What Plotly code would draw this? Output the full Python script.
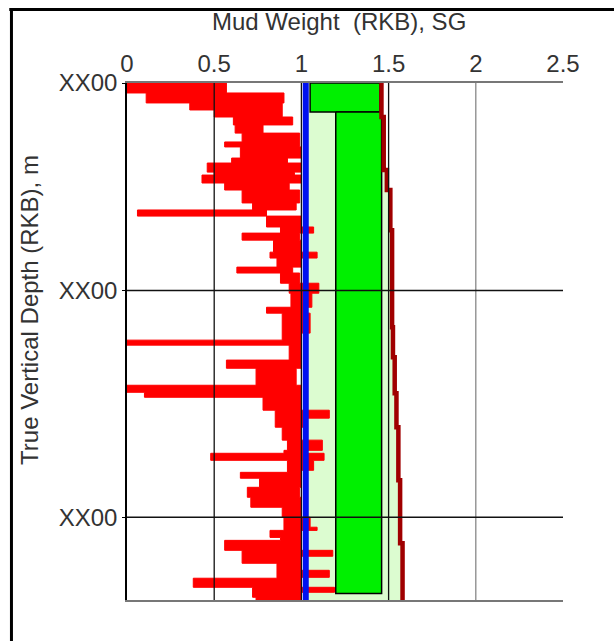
import plotly.graph_objects as go

# ---------------- data ----------------
# measured log (red): depth of top of each interval (m), min and max value (SG)
log_depth = [1808.5, 1812.9, 1817.3, 1820.4, 1823.5, 1827.0, 1830.6, 1834.5, 1836.7, 1841.6,
             1843.8, 1847.8, 1849.1, 1852.6, 1855.7, 1861.4, 1864.5, 1867.2, 1872.0, 1874.7,
             1877.8, 1883.1, 1885.7, 1889.7, 1892.3, 1896.8, 1901.2, 1907.4, 1910.0, 1918.8,
             1921.9, 1924.1, 1930.7, 1934.3, 1941.8, 1944.9, 1947.1, 1952.8, 1956.3, 1960.3,
             1966.0, 1970.5, 1971.8, 1974.9, 1979.3, 1980.2, 1982.8, 1986.8, 1991.2, 1995.6,
             2000.0, 2004.4, 2005.8, 2008.9, 2010.2, 2014.6, 2017.2, 2020.3, 2023.4, 2026.5,
             2026.9, 2030.9, 2033.1, 2035.3]
log_min = [0.00, 0.11, 0.36, 0.50, 0.61, 0.62, 0.66, 0.56, 0.65, 0.60,
           0.46, 0.50, 0.43, 0.56, 0.66, 0.72, 0.06, 0.80, 0.88, 0.66,
           0.84, 0.82, 0.86, 0.63, 0.88, 0.93, 0.94, 0.80, 0.89, 0.89,
           0.00, 0.93, 0.57, 0.74, 0.00, 0.10, 0.78, 0.85, 0.85, 0.89,
           0.92, 0.90, 0.48, 0.92, 0.92, 0.65, 0.76, 0.69, 0.71, 0.89,
           0.90, 0.90, 0.82, 0.88, 0.56, 0.66, 0.66, 0.86, 0.86, 0.86,
           0.38, 0.72, 0.72, 0.74]
log_max = [0.57, 0.90, 0.89, 0.89, 0.95, 0.78, 0.99, 0.99, 1.00, 0.92,
           1.00, 0.96, 1.00, 0.93, 0.99, 0.97, 0.80, 1.00, 1.07, 0.99,
           1.00, 1.09, 1.00, 0.95, 0.99, 1.10, 1.06, 1.02, 1.05, 1.00,
           1.00, 1.00, 1.00, 0.97, 1.00, 1.00, 1.00, 1.16, 1.02, 1.00,
           1.12, 1.02, 1.13, 1.07, 1.00, 1.00, 1.00, 0.99, 1.00, 1.00,
           1.05, 1.09, 1.00, 1.00, 1.00, 1.18, 1.00, 1.00, 1.16, 1.00,
           1.00, 1.19, 1.00, 1.00]
depth_top = 1808.5
depth_bottom = 2036.5

# mud weight used (blue)
mw_depth = [1808.5, 2036.5]
mw_value = [1.025, 1.025]

# fracture gradient (dark red), stepped
frac_depth = [1808.5, 1823.5, 1846.9, 1855.7, 1873.4, 1916.2, 1929.4, 1945.3, 1960.3, 1983.7, 2011.5, 2036.5]
frac_value = [1.459, 1.472, 1.490, 1.510, 1.520, 1.525, 1.535, 1.545, 1.556, 1.566, 1.580, 1.580]

# mud weight windows (green boxes)
win_top = [1808.5, 1821.3]
win_bottom = [1821.3, 2033.6]
win_low = [1.05, 1.197]
win_high = [1.45, 1.46]

depth_ticks = [1808.5, 1900, 2000]
depth_labels = ["XX00", "XX00", "XX00"]
mw_ticks = [0, 0.5, 1, 1.5, 2, 2.5]
mw_labels = ["0", "0.5", "1", "1.5", "2", "2.5"]

# ---------------- figure ----------------
fig = go.Figure()

# light green: between mud weight and fracture gradient
fx, fy = [], []
for i in range(len(frac_value) - 1):
    fx += [frac_value[i], frac_value[i]]
    fy += [frac_depth[i], frac_depth[i + 1]]
poly_x = [mw_value[0], mw_value[1]] + fx[::-1]
poly_y = [mw_depth[0], mw_depth[1]] + fy[::-1]
fig.add_trace(go.Scatter(x=poly_x, y=poly_y, fill="toself", fillcolor="#dcfcd0",
                         line=dict(width=0), mode="lines", hoverinfo="skip", showlegend=False))

# green windows
for t, b, lo, hi in zip(win_top, win_bottom, win_low, win_high):
    fig.add_trace(go.Scatter(x=[lo, hi, hi, lo, lo], y=[t, t, b, b, t], fill="toself",
                             fillcolor="#00f000", line=dict(color="black", width=1.5),
                             mode="lines", showlegend=False))

# red log as filled band between min and max
lx, ly, rx, ry = [], [], [], []
bounds = log_depth + [depth_bottom]
for i in range(len(log_depth)):
    lx += [log_min[i], log_min[i]]
    ly += [bounds[i], bounds[i + 1]]
    rx += [log_max[i], log_max[i]]
    ry += [bounds[i], bounds[i + 1]]
fig.add_trace(go.Scatter(x=lx + rx[::-1], y=ly + ry[::-1], fill="toself", fillcolor="#ff0000",
                         line=dict(color="#ff0000", width=1), mode="lines", showlegend=False))

# fracture gradient line
fig.add_trace(go.Scatter(x=frac_value, y=frac_depth, mode="lines", line_shape="vh",
                         line=dict(color="#a00000", width=4.5), showlegend=False))

# mud weight line
fig.add_trace(go.Scatter(x=mw_value, y=mw_depth, mode="lines",
                         line=dict(color="#0010f0", width=6), showlegend=False))

font = dict(family="Liberation Sans, Arial, sans-serif", size=24, color="#333")

# grid lines drawn above the data (as in the reference)
grid_shapes = []
for v in mw_ticks[1:-1]:
    grid_shapes.append(dict(type="line", xref="x", yref="paper", x0=v, x1=v, y0=0, y1=1,
                            line=dict(color="#888" if v >= 2 else "#111", width=1.3)))
for d in depth_ticks[1:]:
    grid_shapes.append(dict(type="line", xref="paper", yref="y", x0=0, x1=1, y0=d, y1=d,
                            line=dict(color="#111", width=1.3)))

fig.update_layout(
    width=614, height=641,
    margin=dict(l=127, r=51, t=83, b=41),
    paper_bgcolor="white", plot_bgcolor="white",
    font=font,
    xaxis=dict(side="top", range=[0, 2.5], tickvals=mw_ticks, ticktext=mw_labels,
               showgrid=False, zeroline=False,
               showline=True, linecolor="#777", linewidth=1.5, mirror=True,
               ticks="", tickfont=font),
    yaxis=dict(range=[depth_bottom, depth_top], tickvals=depth_ticks, ticktext=depth_labels,
               showgrid=False, zeroline=False,
               showline=True, linecolor="black", linewidth=1.5,
               ticks="outside", ticklen=3, tickcolor="black", tickfont=font),
    annotations=[
        dict(text="Mud Weight  (RKB), SG", xref="paper", yref="paper", x=0.486, y=1.118,
             xanchor="center", yanchor="middle", showarrow=False, font=font),
        dict(text="True Vertical Depth (RKB), m", xref="paper", yref="paper", x=-0.2225, y=0.561,
             xanchor="center", yanchor="middle", textangle=-90, showarrow=False, font=font),
    ],
    shapes=grid_shapes + [
        dict(type="line", xref="paper", yref="paper", x0=-0.265, x1=-0.265, y0=1.145, y1=-0.2,
             line=dict(color="black", width=3)),
        dict(type="line", xref="paper", yref="paper", x0=-0.27, x1=1.2, y0=1.142, y1=1.142,
             line=dict(color="black", width=3)),
    ],
)

fig.write_html("out.html")
